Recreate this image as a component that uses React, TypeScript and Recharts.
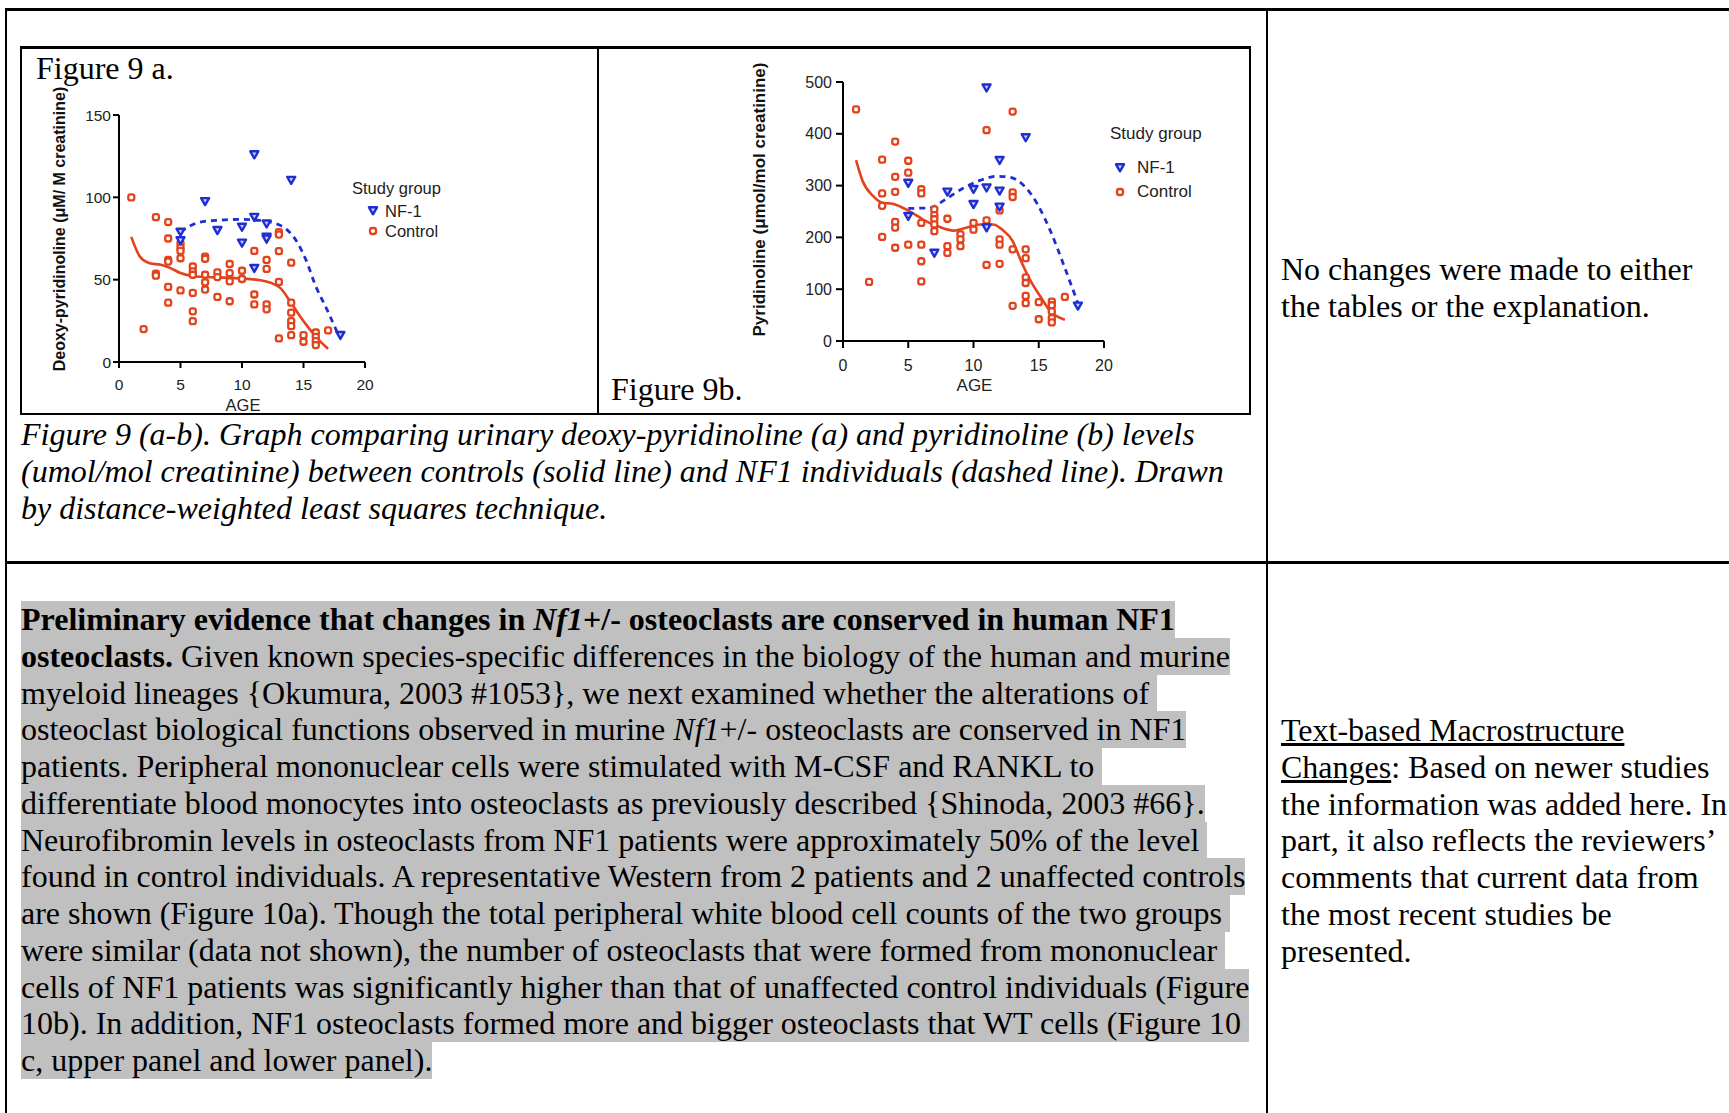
import React from "react";
import { ComposedChart, Scatter, Line, XAxis, YAxis, Legend } from "recharts";

const SERIF = '"Liberation Serif", "Times New Roman", serif';
const SANS = '"Liberation Sans", Arial, sans-serif';
const NF1_BLUE = "#1f2ed2";
const CTRL_RED = "#e2421c";
const LH = 36.75;

// shared
const ageTicks = [0, 5, 10, 15, 20];
const groupNames = ["NF-1", "Control"];

// Figure 9a: deoxy-pyridinoline
const dpdTicks = [0, 50, 100, 150];
const dpdControl = [
  [1, 100], [2, 20], [3, 88], [3, 53.6], [3, 52.4], [4, 85], [4, 75], [4, 62], [4, 61], [4, 45.6], [4, 36],
  [5, 72], [5, 69.4], [5, 67.5], [5, 63], [5, 43.5], [6, 58], [6, 55], [6, 53], [6, 42], [6, 30.8], [6, 24.8],
  [7, 64], [7, 62.7], [7, 53], [7, 48.4], [7, 44], [8, 54.4], [8, 51.6], [8, 39.5],
  [9, 59.5], [9, 54], [9, 49], [9, 36.9], [10, 55.4], [10, 50.4], [11, 67.5], [11, 41], [11, 35],
  [12, 62], [12, 56.5], [12, 35], [12, 32], [13, 78.8], [13, 77.4], [13, 67.3], [13, 48.6], [13, 14.3],
  [14, 60.3], [14, 36], [14, 30], [14, 24.8], [14, 21.8], [14, 16.3], [15, 16.3], [15, 12.3],
  [16, 17.9], [16, 15.3], [16, 12.7], [16, 10.3], [17, 19.2],
];
const dpdNf1 = [
  [11, 126], [14, 110.5], [7, 97.6], [5, 79], [5, 73.8], [8, 80], [10, 82], [10, 72.4], [11, 88],
  [12, 84], [12, 76], [12, 74.8], [11, 57], [18, 16.3],
];
const dpdControlFit = [
  [1, 76], [1.7, 64], [2.5, 60], [3.4, 59], [4.2, 57], [5, 54], [5.8, 52.4], [6.9, 51.6], [8, 51.4],
  [9.8, 50.8], [11.5, 49.6], [12.5, 47.6], [13.1, 45], [13.9, 37], [14.7, 28], [15.5, 20], [16.3, 13], [17, 8],
];
const dpdNf1Fit = [
  [5, 79], [5.8, 82.7], [6.6, 85], [7.9, 86], [9.8, 86.6], [11.4, 86], [12.5, 84.6], [13.6, 80.7],
  [14.4, 73.8], [15.2, 62], [16, 46], [16.9, 32], [17.8, 17],
];

// Figure 9b: pyridinoline
const pydTicks = [0, 100, 200, 300, 400, 500];
const pydControl = [
  [1, 447], [2, 114], [3, 350], [3, 285], [3, 261], [3, 201], [4, 385], [4, 317], [4, 288], [4, 230], [4, 219], [4, 180],
  [5, 348], [5, 325], [5, 186], [6, 293], [6, 285], [6, 228], [6, 186], [6, 154], [6, 115],
  [7, 254], [7, 243], [7, 235], [7, 225], [7, 212], [8, 236], [8, 183], [8, 170], [9, 206], [9, 196], [9, 183],
  [10, 228], [10, 215], [11, 407], [11, 233], [11, 147], [12, 252], [12, 196], [12, 186], [12, 149],
  [13, 443], [13, 287], [13, 278], [13, 177], [13, 68], [14, 177], [14, 160], [14, 123], [14, 112], [14, 87], [14, 73],
  [15, 75], [15, 42], [16, 76], [16, 69], [16, 57], [16, 44], [16, 36], [17, 85],
];
const pydNf1 = [
  [11, 489], [14, 393], [12, 349], [5, 305], [8, 288], [10, 293], [10, 264], [11, 296], [12, 290], [12, 259],
  [5, 241], [11, 219], [7, 170], [18, 68],
];
const pydControlFit = [
  [1, 349], [1.5, 309], [2.3, 280], [3, 267], [3.8, 265], [4.6, 257], [5.4, 246], [6.1, 235], [7.2, 222],
  [8.5, 213], [9.5, 219], [10.5, 225], [11.5, 225], [12.2, 215], [13, 193], [13.6, 157], [14.4, 115],
  [15.2, 83], [15.9, 57], [17, 41],
];
const pydNf1Fit = [
  [5, 256], [6.6, 257], [7.9, 274], [9.2, 295], [10.5, 310], [11.8, 318], [12.8, 316], [13.9, 299],
  [14.9, 264], [15.9, 212], [17, 141], [18, 73],
];

const captionLines = [
  "Figure 9 (a-b). Graph comparing urinary deoxy-pyridinoline (a) and pyridinoline (b) levels",
  "(umol/mol creatinine) between controls (solid line) and NF1 individuals (dashed line). Drawn",
  "by distance-weighted least squares technique.",
];

const toPts = (rows: number[][]) => rows.map(([age, value]) => ({ age, value }));

const Triangle = (p: any) => {
  const { cx, cy } = p;
  if (cx == null || cy == null) return null;
  return (
    <path
      d={`M${cx - 4},${cy - 3.2}L${cx + 4},${cy - 3.2}L${cx},${cy + 3.8}Z`}
      fill="#c9cdf6"
      stroke={NF1_BLUE}
      strokeWidth={2.4}
      strokeLinejoin="round"
    />
  );
};

const Ring = (p: any) => {
  const { cx, cy } = p;
  if (cx == null || cy == null) return null;
  return (
    <rect
      x={cx - 3}
      y={cy - 3}
      width={6}
      height={6}
      rx={2.2}
      fill="#fff"
      stroke={CTRL_RED}
      strokeWidth={2.3}
    />
  );
};

function StudyLegend({ size, headH, gap, rowH, padL, textGap }: any) {
  return (
    <div style={{ fontFamily: SANS, fontSize: size, color: "#222", width: 140 }}>
      <div style={{ height: headH, lineHeight: `${headH}px`, marginBottom: gap, whiteSpace: "nowrap" }}>Study group</div>
      {groupNames.map((name) => (
        <div key={name} style={{ height: rowH, display: "flex", alignItems: "center", paddingLeft: padL }}>
          <svg width={14} height={14}>
            {name === "NF-1" ? <Triangle cx={7} cy={6.5} /> : <Ring cx={7} cy={7} />}
          </svg>
          <span style={{ marginLeft: textGap }}>{name}</span>
        </div>
      ))}
    </div>
  );
}

function PanelChart(props: any) {
  const { width, height, margin, yTicks, yMax, control, nf1, controlFit, nf1Fit, yTitle, font, legend } = props;
  const tickStyle = { fontSize: font.tick, fill: "#222", fontFamily: SANS };
  const axisStroke = { stroke: "#000", strokeWidth: 2 };
  return (
    <ComposedChart width={width} height={height} margin={margin}>
      <XAxis
        type="number"
        dataKey="age"
        domain={[0, 20]}
        ticks={ageTicks}
        height={40}
        axisLine={axisStroke}
        tickLine={axisStroke}
        tickSize={font.tickSize}
        tickMargin={font.xMargin}
        tick={tickStyle}
        label={{
          content: ({ viewBox }: any) => (
            <text
              x={viewBox.x + viewBox.width / 2 + 1}
              y={viewBox.y + font.ageDy}
              textAnchor="middle"
              dominantBaseline="central"
              fontFamily={SANS}
              fontSize={font.age}
              fill="#222"
            >
              AGE
            </text>
          ),
        }}
      />
      <YAxis
        type="number"
        dataKey="value"
        domain={[0, yMax]}
        ticks={yTicks}
        width={40}
        axisLine={axisStroke}
        tickLine={axisStroke}
        tickSize={font.tickSize}
        tickMargin={font.yMargin}
        tick={tickStyle}
        label={{
          content: ({ viewBox }: any) => {
            const x = viewBox.x + font.titleDx;
            const y = viewBox.y + viewBox.height / 2 + font.titleDy;
            return (
              <text
                x={x}
                y={y}
                transform={`rotate(-90 ${x} ${y})`}
                textAnchor="middle"
                dominantBaseline="central"
                fontFamily={SANS}
                fontWeight="bold"
                fontSize={font.title}
                fill="#111"
              >
                {yTitle}
              </text>
            );
          },
        }}
      />
      <Legend
        layout="vertical"
        align="center"
        verticalAlign="middle"
        wrapperStyle={{ left: legend.left, top: legend.top, width: 140 }}
        content={() => <StudyLegend {...legend} />}
      />
      <Scatter name="Control" data={toPts(control)} shape={<Ring />} isAnimationActive={false} />
      <Scatter name="NF-1" data={toPts(nf1)} shape={<Triangle />} isAnimationActive={false} />
      <Line
        data={toPts(controlFit)}
        dataKey="value"
        type="monotone"
        stroke={CTRL_RED}
        strokeWidth={2.6}
        dot={false}
        activeDot={false}
        legendType="none"
        isAnimationActive={false}
      />
      <Line
        data={toPts(nf1Fit)}
        dataKey="value"
        type="monotone"
        stroke={NF1_BLUE}
        strokeWidth={2.8}
        strokeDasharray="6 5"
        dot={false}
        activeDot={false}
        legendType="none"
        isAnimationActive={false}
      />
    </ComposedChart>
  );
}

function Lines({ left, top, lines, italic, highlight }: any) {
  return (
    <>
      {lines.map((ln: any, i: number) => (
        <div
          key={i}
          style={{
            position: "absolute",
            left,
            top: top + i * LH,
            height: LH,
            whiteSpace: "pre",
            fontStyle: italic ? "italic" : "normal",
          }}
        >
          <span
            style={{
              display: "inline-block",
              height: LH,
              lineHeight: `${LH}px`,
              background: highlight ? "#c0c0c0" : "transparent",
            }}
          >
            {ln}
          </span>
        </div>
      ))}
    </>
  );
}

const paragraph = [
  <>
    <b>
      Preliminary evidence that changes in <i>Nf1</i>+/- osteoclasts are conserved in human NF1
    </b>
  </>,
  <>
    <b>osteoclasts.</b> Given known species-specific differences in the biology of the human and murine
  </>,
  "myeloid lineages {Okumura, 2003 #1053}, we next examined whether the alterations of ",
  <>
    osteoclast biological functions observed in murine <i>Nf1</i>+/- osteoclasts are conserved in NF1
  </>,
  "patients. Peripheral mononuclear cells were stimulated with M-CSF and RANKL to ",
  "differentiate blood monocytes into osteoclasts as previously described {Shinoda, 2003 #66}.",
  "Neurofibromin levels in osteoclasts from NF1 patients were approximately 50% of the level ",
  "found in control individuals. A representative Western from 2 patients and 2 unaffected controls",
  "are shown (Figure 10a). Though the total peripheral white blood cell counts of the two groups ",
  "were similar (data not shown), the number of osteoclasts that were formed from mononuclear ",
  "cells of NF1 patients was significantly higher than that of unaffected control individuals (Figure",
  "10b). In addition, NF1 osteoclasts formed more and bigger osteoclasts that WT cells (Figure 10 ",
  "c, upper panel and lower panel).",
];

const notes = [
  <u>Text-based Macrostructure</u>,
  <>
    <u>Changes</u>: Based on newer studies
  </>,
  "the information was added here. In",
  "part, it also reflects the reviewers\u2019",
  "comments that current data from",
  "the most recent studies be",
  "presented.",
];

export default function App() {
  const rule = (s: any) => <div style={{ position: "absolute", background: "#000", ...s }} />;
  return (
    <div
      style={{
        position: "absolute",
        left: 0,
        top: 0,
        width: 1729,
        height: 1113,
        overflow: "hidden",
        background: "#fff",
        fontFamily: SERIF,
        fontSize: 32,
        color: "#000",
      }}
    >
      {rule({ left: 5, top: 8, width: 1724, height: 3 })}
      {rule({ left: 5, top: 8, width: 2, height: 1105 })}
      {rule({ left: 1266, top: 8, width: 2, height: 1105 })}
      {rule({ left: 5, top: 561, width: 1724, height: 3 })}

      <div
        style={{
          position: "absolute",
          left: 20,
          top: 46,
          width: 1231,
          height: 369,
          boxSizing: "border-box",
          border: "2px solid #000",
          borderTopWidth: 3,
        }}
      />
      {rule({ left: 597, top: 47, width: 2, height: 368 })}

      <div style={{ position: "absolute", left: 22, top: 49 }}>
        <PanelChart
          width={573}
          height={364}
          margin={{ top: 66, right: 230, bottom: 11, left: 57 }}
          yTicks={dpdTicks}
          yMax={150}
          control={dpdControl}
          nf1={dpdNf1}
          controlFit={dpdControlFit}
          nf1Fit={dpdNf1Fit}
          yTitle={"Deoxy-pyridinoline (\u03bcM/ M creatinine)"}
          font={{ tick: 15.5, tickSize: 6, xMargin: 11, yMargin: 2, age: 16.5, ageDy: 43, title: 16, titleDx: -20, titleDy: -9.5 }}
          legend={{ left: 330, top: 129, size: 16.5, headH: 20, gap: 3, rowH: 20, padL: 14, textGap: 5 }}
        />
      </div>
      <div style={{ position: "absolute", left: 599, top: 49 }}>
        <PanelChart
          width={650}
          height={364}
          margin={{ top: 33, right: 145, bottom: 32, left: 204 }}
          yTicks={pydTicks}
          yMax={500}
          control={pydControl}
          nf1={pydNf1}
          controlFit={pydControlFit}
          nf1Fit={pydNf1Fit}
          yTitle={"Pyridinoline (\u03bcmol/mol creatinine)"}
          font={{ tick: 16, tickSize: 7, xMargin: 12, yMargin: 4, age: 17, ageDy: 44, title: 17, titleDx: -43.5, titleDy: -12 }}
          legend={{ left: 511, top: 75, size: 17, headH: 20, gap: 12, rowH: 24, padL: 3, textGap: 10 }}
        />
      </div>

      <div style={{ position: "absolute", left: 36, top: 50, height: LH, lineHeight: `${LH}px` }}>Figure 9 a.</div>
      <div style={{ position: "absolute", left: 611, top: 371, height: LH, lineHeight: `${LH}px` }}>Figure 9b.</div>

      <Lines left={21} top={416} lines={captionLines} italic />
      <Lines left={1281} top={251} lines={["No changes were made to either", "the tables or the explanation."]} />
      <Lines left={21} top={601} lines={paragraph} highlight />
      <Lines left={1281} top={712} lines={notes} />
    </div>
  );
}
